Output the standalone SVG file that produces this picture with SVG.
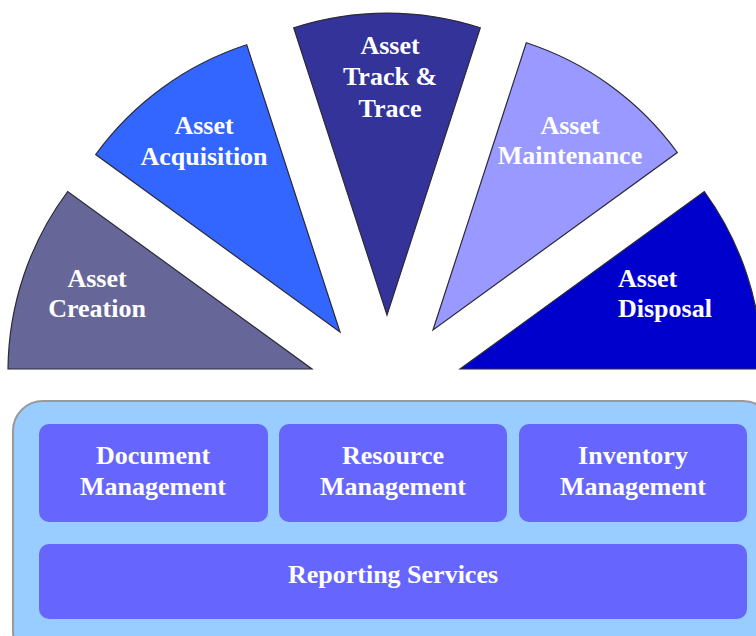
<svg xmlns="http://www.w3.org/2000/svg" width="756" height="636" viewBox="0 0 756 636">
<style>
.w{stroke:#2a2a3a;stroke-width:1.2;stroke-linejoin:miter}
.t{font-family:"Liberation Serif","Times New Roman",serif;font-weight:bold;font-size:26px;fill:#ffffff;text-anchor:middle}
.box{fill:#6666ff}
</style>
<rect width="756" height="636" fill="#ffffff"/>
<g id="creation">
<path class="w" fill="#666699" d="M312,369 L8,369 A302,302 0 0 1 67.7,191.5 Z"/>
<text class="t" x="97" y="287">Asset</text>
<text class="t" x="97" y="317">Creation</text>
</g>
<g id="acquisition">
<path class="w" fill="#3366ff" d="M340,332 L95.7,154.5 A302,302 0 0 1 246.7,44.8 Z"/>
<text class="t" x="204" y="134">Asset</text>
<text class="t" x="204" y="165">Acquisition</text>
</g>
<g id="track">
<path class="w" fill="#333399" d="M387,315 L293.7,27.8 A302,302 0 0 1 480.3,27.8 Z"/>
<text class="t" x="390" y="54">Asset</text>
<text class="t" x="390" y="85">Track &amp;</text>
<text class="t" x="390" y="117">Trace</text>
</g>
<g id="maintenance">
<path class="w" fill="#9999ff" d="M433,330 L526.3,42.8 A302,302 0 0 1 677.3,152.5 Z"/>
<text class="t" x="570" y="134">Asset</text>
<text class="t" x="570" y="164">Maintenance</text>
</g>
<g id="disposal">
<path class="w" fill="#0000cc" d="M460,369 L704.3,191.5 A302,302 0 0 1 762,369 Z"/>
<text class="t" x="618" y="287" style="text-anchor:start">Asset</text>
<text class="t" x="618" y="317" style="text-anchor:start">Disposal</text>
</g>
<g id="platform">
<rect x="13" y="401" width="760" height="260" rx="30" ry="30" fill="#99ccff" stroke="#999999" stroke-width="2"/>
</g>
<g id="document">
<rect class="box" x="39" y="424" width="229" height="98" rx="10"/>
<text class="t" x="153" y="464">Document</text>
<text class="t" x="153" y="495">Management</text>
</g>
<g id="resource">
<rect class="box" x="279" y="424" width="228" height="98" rx="10"/>
<text class="t" x="393" y="464">Resource</text>
<text class="t" x="393" y="495">Management</text>
</g>
<g id="inventory">
<rect class="box" x="519" y="424" width="228" height="98" rx="10"/>
<text class="t" x="633" y="464">Inventory</text>
<text class="t" x="633" y="495">Management</text>
</g>
<g id="reporting">
<rect class="box" x="39" y="544" width="708" height="75" rx="10"/>
<text class="t" x="393" y="583">Reporting Services</text>
</g>
<g id="connectors"></g>
</svg>
